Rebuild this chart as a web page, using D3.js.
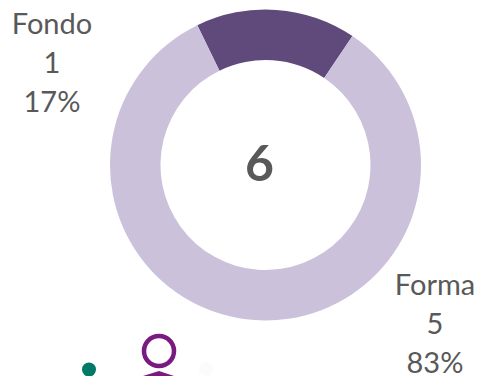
<!DOCTYPE html>
<html>
<head>
<meta charset="utf-8">
<script src="https://d3js.org/d3.v7.min.js"></script>
<style>
html,body{margin:0;padding:0;background:#fff;overflow:hidden}
text{font-family:Lato,"Open Sans",sans-serif;fill:#595959}
</style>
</head>
<body>
<svg id="chart" width="479" height="376"></svg>
<script>
var categories=["Fondo","Forma"]
var values=[1,5]
var percents=["17%","83%"]
var sliceColors=["#604a7b","#ccc1da"]
var total="6"

var cx=265.5
var cy=165
var outerR=155.5
var innerR=105
var startDeg=-26

var svg=d3.select("#chart")
var chartG=svg.append("g").attr("transform","translate("+cx+","+cy+")")

var pie=d3.pie().sort(null)
    .startAngle(startDeg*Math.PI/180)
    .endAngle((startDeg+360)*Math.PI/180)
var arc=d3.arc().innerRadius(innerR).outerRadius(outerR)

chartG.selectAll("path.slice").data(pie(values)).enter().append("path")
    .attr("class","slice")
    .attr("d",arc)
    .attr("fill",function(d,i){return sliceColors[i]})

//---center total---
chartG.append("text")
    .attr("text-anchor","middle")
    .attr("x",-6)
    .attr("y",16)
    .attr("font-size",50)
    .attr("font-weight","bold")
    .text(total)

//---data labels, three lines each---
var labelPos=[[52,34],[435,295]]
categories.forEach(function(name,i){
    var lines=[name,values[i],percents[i]]
    var t=svg.append("text")
        .attr("text-anchor","middle")
        .attr("font-size",29)
    lines.forEach(function(s,k){
        t.append("tspan")
            .attr("x",labelPos[i][0])
            .attr("y",labelPos[i][1]+k*39)
            .text(s)
    })
})

//---cut off icons along the bottom edge---
var iconG=svg.append("g")
iconG.append("circle").attr("cx",89).attr("cy",369.5).attr("r",7).attr("fill","#007a66")
iconG.append("circle").attr("cx",159).attr("cy",351).attr("r",15)
    .attr("fill","none").attr("stroke","#7a1a80").attr("stroke-width",4.5)
iconG.append("path").attr("d","M143 376L159 371L174 376Z").attr("fill","#7a1a80")
iconG.append("circle").attr("cx",206).attr("cy",369).attr("r",7).attr("fill","#f9fcf9")
</script>
</body>
</html>
